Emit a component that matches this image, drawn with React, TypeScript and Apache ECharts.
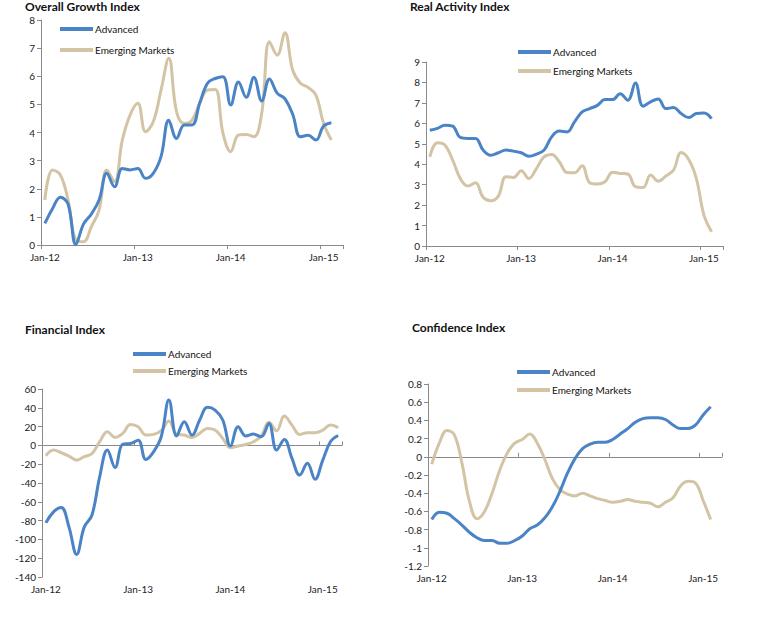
import React, { useEffect, useRef } from "react";
import * as echarts from "echarts";

const MONTHS = [
  "Jan-12", "Feb-12", "Mar-12", "Apr-12", "May-12", "Jun-12", "Jul-12", "Aug-12", "Sep-12", "Oct-12", "Nov-12", "Dec-12",
  "Jan-13", "Feb-13", "Mar-13", "Apr-13", "May-13", "Jun-13", "Jul-13", "Aug-13", "Sep-13", "Oct-13", "Nov-13", "Dec-13",
  "Jan-14", "Feb-14", "Mar-14", "Apr-14", "May-14", "Jun-14", "Jul-14", "Aug-14", "Sep-14", "Oct-14", "Nov-14", "Dec-14",
  "Jan-15", "Feb-15", "Mar-15",
];

const SERIES_NAMES = ["Advanced", "Emerging Markets"];
const TITLES = ["Overall Growth Index", "Real Activity Index", "Financial Index", "Confidence Index"];

const growthAdvanced = [0.77, 1.3, 1.7, 1.45, 0.02, 0.75, 1.1, 1.6, 2.55, 2.07, 2.72, 2.67, 2.72, 2.37, 2.55, 3.14, 4.44, 3.79, 4.27, 4.27, 5.05, 5.75, 5.92, 5.98, 4.98, 5.8, 5.25, 5.96, 5.12, 5.9, 5.4, 5.2, 4.65, 3.85, 3.9, 3.73, 4.23, 4.35];
const growthEmerging = [1.6, 2.67, 2.49, 1.6, 0.18, 0.12, 0.65, 1.24, 2.67, 2.25, 3.73, 4.62, 5.04, 4.03, 4.38, 5.51, 6.64, 4.74, 4.32, 4.44, 5.04, 5.51, 5.53, 3.97, 3.32, 3.91, 3.93, 3.85, 4.68, 7.23, 6.75, 7.55, 6.22, 5.75, 5.6, 5.33, 4.32, 3.73];

const realAdvanced = [5.66, 5.75, 5.91, 5.86, 5.31, 5.26, 5.26, 4.69, 4.44, 4.56, 4.69, 4.64, 4.56, 4.39, 4.49, 4.69, 5.34, 5.62, 5.58, 6.07, 6.56, 6.72, 6.88, 7.16, 7.16, 7.45, 7.13, 7.97, 6.84, 7.05, 7.19, 6.72, 6.77, 6.48, 6.28, 6.48, 6.51, 6.23];
const realEmerging = [4.36, 5.05, 4.93, 4.2, 3.3, 2.93, 3.09, 2.38, 2.21, 2.44, 3.39, 3.35, 3.68, 3.3, 3.79, 4.36, 4.48, 4.12, 3.6, 3.58, 3.92, 3.09, 3.03, 3.14, 3.61, 3.55, 3.52, 2.9, 2.86, 3.47, 3.17, 3.42, 3.71, 4.57, 4.23, 3.3, 1.51, 0.7];

const finAdvanced = [-82.4, -70.7, -66, -86.7, -116, -86.7, -74, -33.4, -5, -23.5, 1.4, 2, 5.6, -15, -6.8, 9.2, 48.3, 10, 25.2, 11, 27, 40.5, 37.6, 27, -0.7, 19.9, 10, 12, 9.2, 23.4, -5, 6.4, -13.9, -31.6, -19, -36, -15.6, 3.9, 10.5];
const finEmerging = [-11, -5, -7.8, -11.4, -15.7, -12, -8.6, 3.9, 14.5, 8.5, 12.8, 22.3, 19.9, 11, 11.7, 15.6, 25.9, 12, 11, 8.5, 12.8, 18.1, 16.3, 7.4, -2.5, -0.7, 1, 3.9, 10, 24.5, 15.6, 31.2, 21.6, 11.7, 13.5, 13.5, 16.3, 21.6, 18.8];

const confAdvanced = [-0.69, -0.61, -0.62, -0.68, -0.75, -0.83, -0.89, -0.92, -0.92, -0.95, -0.95, -0.92, -0.87, -0.79, -0.75, -0.67, -0.55, -0.38, -0.18, -0.02, 0.09, 0.14, 0.16, 0.16, 0.19, 0.25, 0.31, 0.38, 0.42, 0.43, 0.43, 0.41, 0.35, 0.31, 0.31, 0.35, 0.46, 0.55];
const confEmerging = [-0.08, 0.15, 0.29, 0.24, -0.07, -0.49, -0.68, -0.6, -0.4, -0.15, 0.04, 0.15, 0.19, 0.25, 0.15, -0.03, -0.24, -0.36, -0.41, -0.43, -0.4, -0.43, -0.46, -0.48, -0.5, -0.49, -0.47, -0.49, -0.5, -0.51, -0.55, -0.5, -0.45, -0.32, -0.27, -0.29, -0.48, -0.69];

const BLUE = "#4a83c6";
const TAN = "#d2c4a4";
const AXIS = "#8a8a8a";
const FONT = "Lato, 'DejaVu Sans', sans-serif";

function lineSeries(name: string, data: number[], color: string, xAxisIndex: number, yAxisIndex: number) {
  return {
    type: "line",
    name,
    data,
    xAxisIndex,
    yAxisIndex,
    smooth: 0.4,
    symbol: "none",
    lineStyle: { color, width: 3 },
    itemStyle: { color },
    z: name === "Advanced" ? 3 : 2,
  };
}

function labelXAxis(gridIndex: number) {
  return {
    type: "category",
    gridIndex,
    data: MONTHS,
    boundaryGap: true,
    position: "bottom",
    axisLine: { show: true, onZero: false, lineStyle: { color: AXIS, width: 1 } },
    axisTick: { show: true, interval: 11, length: 4, lineStyle: { color: AXIS } },
    axisLabel: { interval: 11, margin: 7, fontSize: 10, color: "#222", fontFamily: FONT },
    splitLine: { show: false },
  };
}

function zeroXAxis(gridIndex: number) {
  return {
    type: "category",
    gridIndex,
    data: MONTHS,
    boundaryGap: true,
    axisLine: { show: true, onZero: true, lineStyle: { color: AXIS, width: 1 } },
    axisTick: { show: true, interval: 11, length: 4, inside: true, lineStyle: { color: AXIS } },
    axisLabel: { show: false },
    splitLine: { show: false },
  };
}

function bottomLabelAxis(gridIndex: number) {
  return {
    type: "category",
    gridIndex,
    data: MONTHS,
    boundaryGap: true,
    position: "bottom",
    axisLine: { show: false, onZero: false },
    axisTick: { show: false },
    axisLabel: { interval: 11, margin: 7, fontSize: 10, color: "#222", fontFamily: FONT },
    splitLine: { show: false },
  };
}

function yAxis(gridIndex: number, min: number, max: number, interval: number) {
  return {
    type: "value",
    gridIndex,
    min,
    max,
    interval,
    axisLine: { show: true, lineStyle: { color: AXIS, width: 1 } },
    axisTick: { show: true, length: 4, lineStyle: { color: AXIS } },
    axisLabel: { margin: 6, fontSize: 10, color: "#222", fontFamily: FONT },
    splitLine: { show: false },
  };
}

function legend(left: number, top: number, itemGap: number) {
  return {
    left,
    top,
    orient: "vertical",
    padding: 0,
    itemGap,
    itemWidth: 33,
    itemHeight: 4,
    icon: "rect",
    selectedMode: false,
    data: SERIES_NAMES,
    textStyle: { fontSize: 10, color: "#111", fontFamily: FONT, padding: [0, 0, 0, -3] },
  };
}

function title(text: string, left: number, top: number) {
  return {
    text,
    left,
    top,
    padding: 0,
    textStyle: { fontSize: 12, fontWeight: "bold", color: "#111", fontFamily: FONT },
  };
}

export default function App() {
  const ref = useRef<HTMLDivElement>(null);
  useEffect(() => {
    if (!ref.current) return;
    const chart = echarts.init(ref.current, null, { renderer: "svg" });
    const option = {
      animation: false,
      backgroundColor: "#ffffff",
      title: [
        title(TITLES[0], 25, 0),
        title(TITLES[1], 410, 0),
        title(TITLES[2], 25, 323),
        title(TITLES[3], 412, 321),
      ],
      legend: [legend(60, 24, 11), legend(518, 47, 9), legend(133, 349, 7), legend(517, 367, 8)],
      grid: [
        { left: 41, top: 20, width: 302, height: 225 },
        { left: 426, top: 62, width: 297, height: 184 },
        { left: 42, top: 389, width: 300, height: 188 },
        { left: 428, top: 384, width: 294, height: 182 },
      ],
      xAxis: [
        labelXAxis(0),
        labelXAxis(1),
        zeroXAxis(2),
        bottomLabelAxis(2),
        zeroXAxis(3),
        bottomLabelAxis(3),
      ],
      yAxis: [yAxis(0, 0, 8, 1), yAxis(1, 0, 9, 1), yAxis(2, -140, 60, 20), yAxis(3, -1.2, 0.8, 0.2)],
      series: [
        lineSeries(SERIES_NAMES[1], growthEmerging, TAN, 0, 0),
        lineSeries(SERIES_NAMES[0], growthAdvanced, BLUE, 0, 0),
        lineSeries(SERIES_NAMES[1], realEmerging, TAN, 1, 1),
        lineSeries(SERIES_NAMES[0], realAdvanced, BLUE, 1, 1),
        lineSeries(SERIES_NAMES[1], finEmerging, TAN, 2, 2),
        lineSeries(SERIES_NAMES[0], finAdvanced, BLUE, 2, 2),
        lineSeries(SERIES_NAMES[1], confEmerging, TAN, 4, 3),
        lineSeries(SERIES_NAMES[0], confAdvanced, BLUE, 4, 3),
      ],
    };
    chart.setOption(option as any);
    return () => chart.dispose();
  }, []);
  return (
    <div
      ref={ref}
      style={{ position: "fixed", left: 0, top: 0, width: 767, height: 621, background: "#fff" }}
    />
  );
}
